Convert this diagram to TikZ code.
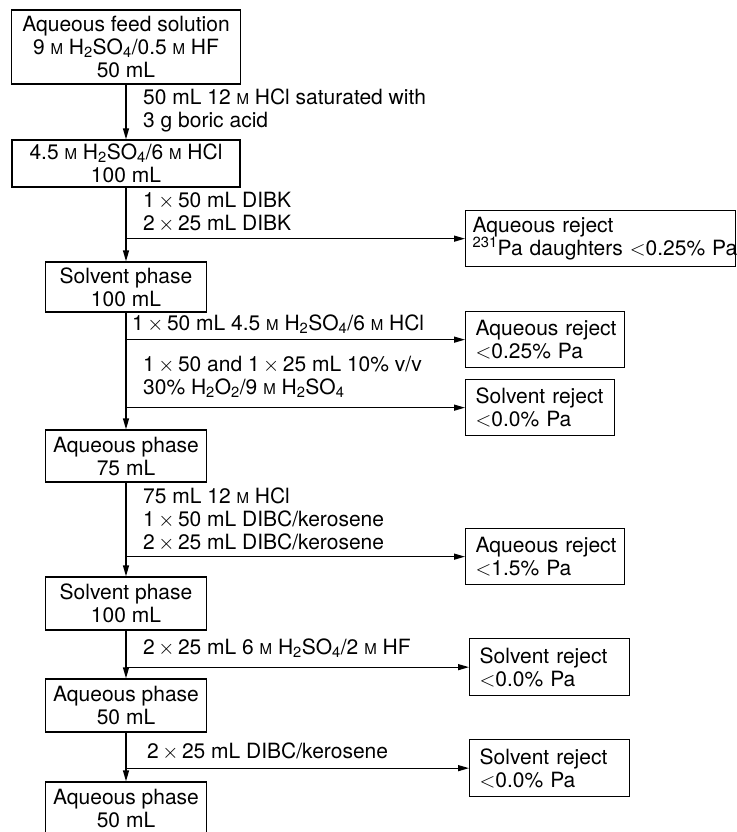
\documentclass[tikz,border=0pt]{standalone}
\usepackage{fontspec}
\setmainfont{TeX Gyre Heros}
\usetikzlibrary{arrows.meta}
\newcommand{\molar}{{\fontsize{15}{15}\selectfont M}}
\newcommand{\tms}{\,$\times$\,}
\newcommand{\lt}{$<$}
\tikzset{
  every node/.style={font=\fontsize{21}{23}\selectfont},
  phase/.style={draw, line width=1.3pt, align=center, inner sep=0pt, minimum width=161pt, minimum height=52pt},
  reject/.style={draw, line width=1.3pt, align=left, anchor=north west, inner ysep=0pt, inner xsep=10pt, minimum height=56pt},
  lbl/.style={anchor=west, align=left, inner sep=0pt},
  flow/.style={line width=1.3pt, -{Triangle[length=11pt,width=6pt]}}
}
\begin{document}
\begin{tikzpicture}[x=1pt,y=-1pt]
\useasboundingbox (0,0) rectangle (736,832);
% main column
\node[phase, minimum width=229pt, minimum height=74pt] (b1) at (126,47) {Aqueous feed solution\\9 \molar{} H\textsubscript{2}SO\textsubscript{4}/0.5 \molar{} HF\\50 mL};
\node[phase, minimum width=228pt, minimum height=47pt] (b2) at (126,163.5) {4.5 \molar{} H\textsubscript{2}SO\textsubscript{4}/6 \molar{} HCl\\100 mL};
\node[phase, minimum height=50pt] (b3) at (126,287) {Solvent phase\\100 mL};
\node[phase] (b4) at (126,456) {Aqueous phase\\75 mL};
\node[phase, minimum height=53pt] (b5) at (126,603.5) {Solvent phase\\100 mL};
\node[phase, minimum height=53pt] (b6) at (126,705.5) {Aqueous phase\\50 mL};
\node[phase, minimum height=53pt] (b7) at (126,808.5) {Aqueous phase\\50 mL};
% reject boxes
\node[reject, text width=256pt, inner xsep=7pt] (r1) at (465,210) {\mbox{Aqueous reject}\\\mbox{\textsuperscript{231}Pa daughters \lt0.25\% Pa}};
\node[reject, text width=139pt] (r2) at (465,311) {\mbox{Aqueous reject}\\\mbox{\lt0.25\% Pa}};
\node[reject, text width=129pt] (r3) at (465,379) {\mbox{Solvent reject}\\\mbox{\lt0.0\% Pa}};
\node[reject, text width=139pt] (r4) at (465,528) {\mbox{Aqueous reject}\\\mbox{\lt1.5\% Pa}};
\node[reject, text width=140pt, minimum height=57pt] (r5) at (469,638) {\mbox{Solvent reject}\\\mbox{\lt0.0\% Pa}};
\node[reject, text width=140pt, minimum height=57pt] (r6) at (469,739) {\mbox{Solvent reject}\\\mbox{\lt0.0\% Pa}};
% labels
\node[lbl] (l1) at (143,110) {50 mL 12 \molar{} HCl saturated with\\3 g boric acid};
\node[lbl] (l2) at (143,212) {1\tms50 mL DIBK\\2\tms25 mL DIBK};
\node[lbl] (l3) at (132,324) {1\tms50 mL 4.5 \molar{} H\textsubscript{2}SO\textsubscript{4}/6 \molar{} HCl};
\node[lbl] (l4) at (143,377) {1\tms50 and 1\tms25 mL 10\% v/v\\30\% H\textsubscript{2}O\textsubscript{2}/9 \molar{} H\textsubscript{2}SO\textsubscript{4}};
\node[lbl] (l5) at (143,520) {75 mL 12 \molar{} HCl\\1\tms50 mL DIBC/kerosene\\2\tms25 mL DIBC/kerosene};
\node[lbl] (l6) at (143,648) {2\tms25 mL 6 \molar{} H\textsubscript{2}SO\textsubscript{4}/2 \molar{} HF};
\node[lbl] (l7) at (147,752) {2\tms25 mL DIBC/kerosene};
% connectors
\draw[flow] (b1) -- (b2);
\draw[flow] (b2) -- (b3);
\draw[flow] (b3) -- (b4);
\draw[flow] (b4) -- (b5);
\draw[flow] (b5) -- (b6);
\draw[flow] (b6) -- (b7);
\draw[flow] (b2.south |- r1.west) -- (r1.west);
\draw[flow] (b3.south |- r2.west) -- (r2.west);
\draw[flow] (b3.south |- r3.west) -- (r3.west);
\draw[flow] (b4.south |- r4.west) -- (r4.west);
\draw[flow] (b5.south |- r5.west) -- (r5.west);
\draw[flow] (b6.south |- r6.west) -- (r6.west);
\end{tikzpicture}
\end{document}
